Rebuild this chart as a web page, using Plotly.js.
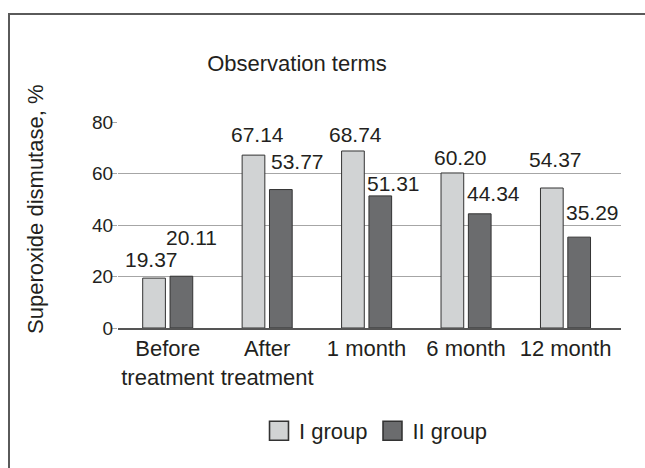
<!DOCTYPE html>
<html>
<head>
<meta charset="utf-8">
<script src="https://cdn.plot.ly/plotly-3.0.1.min.js"></script>
<style>
  html, body { margin: 0; padding: 0; background: #fff; }
  #wrap { position: relative; width: 645px; height: 468px; overflow: hidden; }
  #chart { position: absolute; left: 0; top: 0; width: 645px; height: 468px; }
  #frame { position: absolute; left: 8px; top: 13px; width: 700px; height: 500px;
           border-left: 2px solid #5a5a5a; border-top: 2px solid #5a5a5a; pointer-events: none; }
</style>
</head>
<body>
<div id="wrap">
  <div id="chart"></div>
  <div id="frame"></div>
</div>
<script>
// ---- data ----
const categories = ["Before<br>treatment", "After<br>treatment", "1 month", "6 month", "12 month"];
const groupI = [19.37, 67.14, 68.74, 60.20, 54.37];
const groupII = [20.11, 53.77, 51.31, 44.34, 35.29];
const labelsI = ["19.37", "67.14", "68.74", "60.20", "54.37"];
const labelsII = ["20.11", "53.77", "51.31", "44.34", "35.29"];
const yTicks = [0, 20, 40, 60, 80];

// ---- label placement (pixel offsets, styling only) ----
const placeI = { dx: [-16, -10, -11, -6, -10], dy: [5, 7, 3, 2, 15] };
const placeII = { dx: [24, 30, 27, 27, 27], dy: [25, 15, -1, 7, 11] };

const FONT = "Liberation Sans, Arial, sans-serif";
const TXT = "#231f20";

const traces = [
  { type: "bar", name: "I group", x: categories, y: groupI,
    marker: { color: "#d1d3d4", line: { color: "#333333", width: 1 } } },
  { type: "bar", name: "II group", x: categories, y: groupII,
    marker: { color: "#6b6c6e", line: { color: "#333333", width: 1 } } }
];

const annotations = [];
categories.forEach((c, i) => {
  annotations.push({ x: c, y: groupI[i], xref: "x", yref: "y", text: labelsI[i],
    showarrow: false, xanchor: "center", yanchor: "bottom",
    xshift: placeI.dx[i], yshift: placeI.dy[i], font: { family: FONT, size: 21, color: TXT } });
  annotations.push({ x: c, y: groupII[i], xref: "x", yref: "y", text: labelsII[i],
    showarrow: false, xanchor: "center", yanchor: "bottom",
    xshift: placeII.dx[i], yshift: placeII.dy[i], font: { family: FONT, size: 21, color: TXT } });
});
annotations.push({ text: "Superoxide dismutase, %", textangle: -90, showarrow: false,
  xref: "paper", yref: "paper", x: -0.163, y: 0.573, xanchor: "center", yanchor: "middle",
  font: { family: FONT, size: 22, color: TXT } });

const layout = {
  width: 645, height: 468,
  paper_bgcolor: "#ffffff", plot_bgcolor: "#ffffff",
  margin: { l: 118, r: 24, t: 122, b: 140 },
  font: { family: FONT, color: TXT },
  title: { text: "Observation terms", font: { family: FONT, size: 22, color: TXT },
    xref: "container", x: 297 / 645, xanchor: "center",
    yref: "container", y: 1 - 63 / 468, yanchor: "middle" },
  barmode: "group", bargap: 0.45, bargroupgap: 0.17,
  xaxis: { type: "category", showline: true, linecolor: "#555555", linewidth: 2,
    showgrid: false, ticks: "", tickfont: { family: FONT, size: 22, color: TXT } },
  yaxis: { range: [0, 80], tickvals: yTicks, ticktext: yTicks.map(String),
    showgrid: true, gridcolor: "#a6a6a6", gridwidth: 1, zeroline: false,
    ticks: "outside", ticklen: 5, tickcolor: "#a6a6a6", ticklabelstandoff: -5,
    tickfont: { family: FONT, size: 19, color: TXT } },
  showlegend: true,
  legend: { orientation: "h", xref: "container", yref: "container",
    x: 259 / 645, xanchor: "left", y: 1 - 431 / 468, yanchor: "middle",
    font: { family: FONT, size: 22, color: TXT }, traceorder: "normal" },
  annotations: annotations
};

Plotly.newPlot("chart", traces, layout, { staticPlot: true, displayModeBar: false }).then(() => {
  // enlarge legend swatches to match the reference's larger squares
  document.querySelectorAll("#chart .legendpoints path").forEach(p => {
    const t = p.getAttribute("transform") || "";
    p.setAttribute("transform", t + " scale(1.58)");
  });
});
</script>
</body>
</html>
